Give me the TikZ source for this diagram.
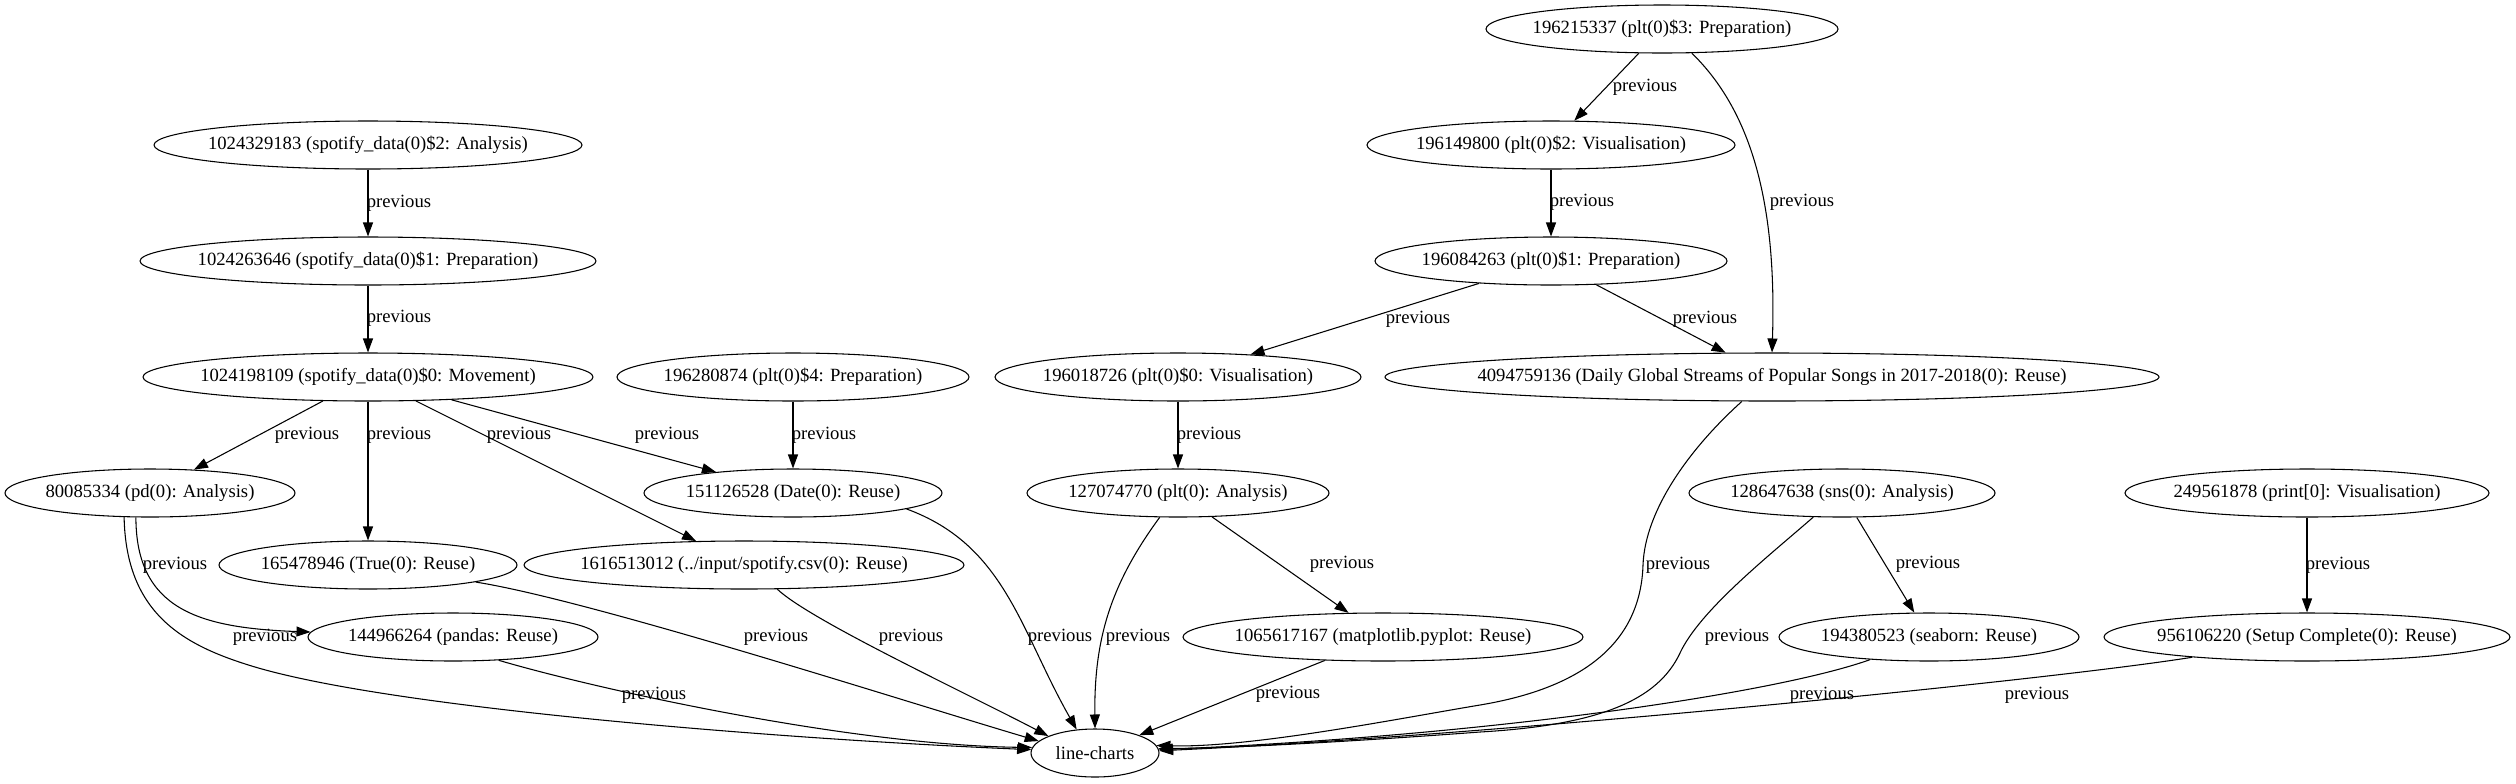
\documentclass[tikz,border=0pt]{standalone}
\usepackage{fontspec}
\setmainfont{Liberation Serif}
\usetikzlibrary{arrows.meta,shapes.geometric}
\newcommand{\gvt}[1]{\makebox[0pt][c]{#1}}
\begin{document}
\begin{tikzpicture}[x=0.75pt,y=-0.75pt,
  gvell/.style={draw, ellipse, line width=0.8pt, inner sep=0pt, minimum height=36pt, font=\fontsize{14pt}{16pt}\selectfont},
  lbl/.style={inner sep=0pt, font=\fontsize{14pt}{16pt}\selectfont},
  gvedge/.style={draw, line width=0.8pt, -{Triangle[length=10.5pt,width=7.5pt]}}]
\useasboundingbox (0,0) rectangle (2516,783);
% nodes
\node[gvell, minimum width=321pt] (a329) at (368,145) {\gvt{1024329183 (spotify\_data(0)\$2: Analysis)}};
\node[gvell, minimum width=342pt] (a263) at (368,261) {\gvt{1024263646 (spotify\_data(0)\$1: Preparation)}};
\node[gvell, minimum width=337.5pt] (a198) at (368,377) {\gvt{1024198109 (spotify\_data(0)\$0: Movement)}};
\node[gvell, minimum width=264pt] (p874) at (793,377) {\gvt{196280874 (plt(0)\$4: Preparation)}};
\node[gvell, minimum width=217.5pt] (pd) at (150,493) {\gvt{80085334 (pd(0): Analysis)}};
\node[gvell, minimum width=223.5pt] (date) at (793,493) {\gvt{151126528 (Date(0): Reuse)}};
\node[gvell, minimum width=223.5pt] (tru) at (368,565) {\gvt{165478946 (True(0): Reuse)}};
\node[gvell, minimum width=330pt] (csv) at (744,565) {\gvt{1616513012 (../input/spotify.csv(0): Reuse)}};
\node[gvell, minimum width=217.5pt] (pandas) at (453,637) {\gvt{144966264 (pandas: Reuse)}};
\node[gvell, minimum width=96pt] (lc) at (1095,753) {\gvt{line-charts}};
\node[gvell, minimum width=264pt] (p337) at (1662,29) {\gvt{196215337 (plt(0)\$3: Preparation)}};
\node[gvell, minimum width=276pt] (p800) at (1551,145) {\gvt{196149800 (plt(0)\$2: Visualisation)}};
\node[gvell, minimum width=264pt] (p263) at (1551,261) {\gvt{196084263 (plt(0)\$1: Preparation)}};
\node[gvell, minimum width=274.5pt] (p726) at (1178,377) {\gvt{196018726 (plt(0)\$0: Visualisation)}};
\node[gvell, minimum width=580.5pt] (daily) at (1772,377) {\gvt{4094759136 (Daily Global Streams of Popular Songs in 2017-2018(0): Reuse)}};
\node[gvell, minimum width=226.5pt] (p770) at (1178,493) {\gvt{127074770 (plt(0): Analysis)}};
\node[gvell, minimum width=300pt] (mpl) at (1383,637) {\gvt{1065617167 (matplotlib.pyplot: Reuse)}};
\node[gvell, minimum width=229.5pt] (sns) at (1842,493) {\gvt{128647638 (sns(0): Analysis)}};
\node[gvell, minimum width=225pt] (seab) at (1929,637) {\gvt{194380523 (seaborn: Reuse)}};
\node[gvell, minimum width=273pt] (prnt) at (2307,493) {\gvt{249561878 (print[0]: Visualisation)}};
\node[gvell, minimum width=304.5pt] (setup) at (2307,637) {\gvt{956106220 (Setup Complete(0): Reuse)}};
% straight edges
\draw[gvedge] (a329) -- (a263);
\draw[gvedge] (a263) -- (a198);
\draw[gvedge] (a198) -- (pd);
\draw[gvedge] (a198) -- (tru);
\draw[gvedge] (a198) -- (csv);
\draw[gvedge] (a198) -- (date);
\draw[gvedge] (p874) -- (date);
\draw[gvedge] (p337) -- (p800);
\draw[gvedge] (p800) -- (p263);
\draw[gvedge] (p263) -- (p726);
\draw[gvedge] (p263) -- (daily);
\draw[gvedge] (p726) -- (p770);
\draw[gvedge] (p770) -- (mpl);
\draw[gvedge] (mpl) -- (lc);
\draw[gvedge] (sns) -- (seab);
\draw[gvedge] (prnt) -- (setup);
% curved edges
\draw[gvedge] (p337.-39) .. controls (1750,110) and (1777,200) .. (daily.north);
\draw[gvedge] (pd.240) .. controls (136,610) and (200,628) .. (pandas.178);
\draw[gvedge] (pd.223) .. controls (126,615) and (185,646) .. (255,667) .. controls (400,710) and (800,740) .. (lc.177);
\draw[gvedge] (pandas.-27) .. controls (600,690) and (850,745) .. (lc.175);
\draw[gvedge] (tru.-9) .. controls (590,600) and (900,700) .. (lc.168);
\draw[gvedge] (csv.-36) .. controls (810,620) and (960,690) .. (lc.160);
\draw[gvedge] (date.-8) .. controls (1005,545) and (1020,630) .. (lc.128);
\draw[gvedge] (p770.233) .. controls (1110,585) and (1094,640) .. (lc.north);
\draw[gvedge] (daily.219) .. controls (1690,448) and (1645,510) .. (1643,565) .. controls (1641,630) and (1600,685) .. (1480,705) .. controls (1396,719) and (1250,748) .. (lc.7);
\draw[gvedge] (sns.220) .. controls (1770,555) and (1700,610) .. (1680,653) .. controls (1658,700) and (1600,725) .. (1480,732) .. controls (1400,738) and (1250,748) .. (lc.4);
\draw[gvedge] (seab.201) .. controls (1780,692) and (1500,735) .. (lc.3);
\draw[gvedge] (setup.190) .. controls (2050,680) and (1500,735) .. (lc.2);
% edge labels
\node[lbl] (l01) at (399,203) {previous};
\node[lbl] (l02) at (399,318) {previous};
\node[lbl] (l03) at (307,435) {previous};
\node[lbl] (l04) at (399,435) {previous};
\node[lbl] (l05) at (519,435) {previous};
\node[lbl] (l06) at (667,435) {previous};
\node[lbl] (l07) at (824,435) {previous};
\node[lbl] (l08) at (1209,435) {previous};
\node[lbl] (l09) at (1645,87) {previous};
\node[lbl] (l10) at (1582,202) {previous};
\node[lbl] (l11) at (1802,202) {previous};
\node[lbl] (l12) at (1418,319) {previous};
\node[lbl] (l13) at (1705,319) {previous};
\node[lbl] (l14) at (175,565) {previous};
\node[lbl] (l15) at (1342,564) {previous};
\node[lbl] (l16) at (1678,565) {previous};
\node[lbl] (l17) at (1928,564) {previous};
\node[lbl] (l18) at (2338,565) {previous};
\node[lbl] (l19) at (265,637) {previous};
\node[lbl] (l20) at (776,637) {previous};
\node[lbl] (l21) at (911,637) {previous};
\node[lbl] (l22) at (1060,637) {previous};
\node[lbl] (l23) at (1138,637) {previous};
\node[lbl] (l24) at (1737,637) {previous};
\node[lbl] (l25) at (654,695) {previous};
\node[lbl] (l26) at (1288,694) {previous};
\node[lbl] (l27) at (1822,695) {previous};
\node[lbl] (l28) at (2037,695) {previous};
\end{tikzpicture}
\end{document}
